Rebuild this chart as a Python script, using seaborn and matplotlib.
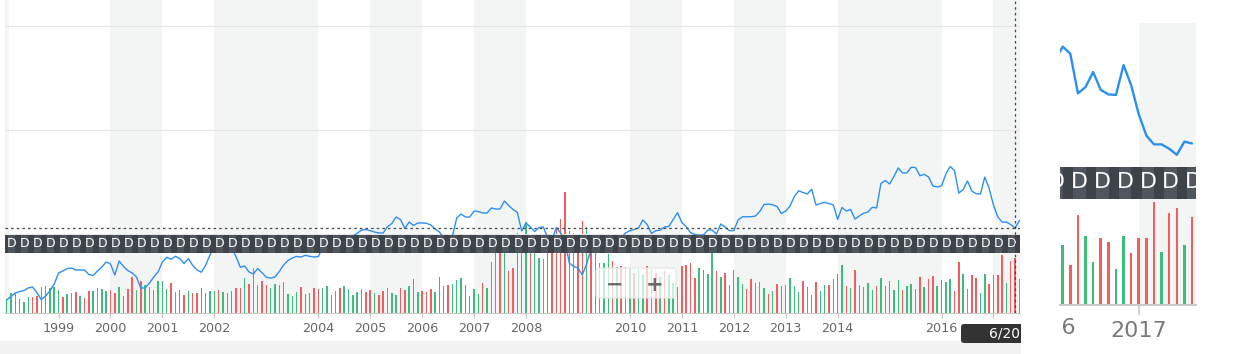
import numpy as np
import matplotlib
matplotlib.use("Agg")
import matplotlib.pyplot as plt
import matplotlib.transforms as mtransforms
from matplotlib.patches import Rectangle, FancyBboxPatch
import seaborn as sns

W, H = 1238, 354

# ---------------- data (monthly, Jan 1998 .. Aug 2017) ----------------
price = [
    3.65, 3.99, 4.33, 4.45, 4.57, 4.81, 4.90, 4.36, 3.70, 4.04, 4.52, 5.19,
    6.25, 6.44, 6.68, 6.73, 6.54, 6.54, 6.54, 6.11, 6.01, 6.44, 6.83, 7.31,
    7.12, 6.06, 7.40, 6.88, 6.49, 6.25, 5.87, 4.81, 4.81, 5.29, 5.87, 6.35,
    7.31, 7.76, 7.57, 7.86, 7.64, 7.16, 7.64, 6.97, 6.54, 6.32, 7.02, 7.98,
    8.85, 9.33, 9.52, 9.23, 8.65, 7.82, 6.80, 6.92, 6.35, 6.15, 6.68, 6.28,
    5.84, 5.75, 5.87, 6.39, 7.02, 7.45, 7.69, 7.84, 7.79, 7.95, 7.86, 7.79,
    7.82, 8.65, 8.94, 8.85, 9.04, 9.23, 9.42, 9.62, 9.81, 10.07, 10.38, 10.43,
    10.32, 10.19, 10.10, 10.10, 10.70, 11.01, 11.63, 11.39, 10.53, 11.15, 10.82, 11.06,
    11.06, 11.03, 10.87, 10.48, 10.19, 9.62, 9.23, 9.81, 11.54, 11.92, 11.63, 11.63,
    12.21, 12.16, 12.02, 12.02, 12.50, 12.40, 12.40, 13.17, 12.74, 12.36, 12.07, 10.29,
    11.06, 10.67, 10.24, 10.63, 10.67, 9.62, 9.42, 10.61, 10.10, 9.42, 7.21, 6.88,
    6.73, 6.06, 7.12, 8.46, 8.46, 8.65, 8.85, 9.04, 9.23, 9.42, 9.62, 10.10,
    10.32, 10.43, 10.58, 11.35, 10.91, 10.05, 10.32, 10.37, 10.67, 10.72, 11.39, 12.05,
    11.11, 10.70, 10.14, 9.95, 9.90, 9.90, 10.38, 10.38, 10.00, 10.96, 10.67, 10.32,
    10.32, 11.35, 11.65, 11.66, 11.66, 11.73, 12.16, 12.84, 12.88, 12.81, 12.64, 11.97,
    12.21, 12.69, 13.61, 14.15, 13.99, 13.85, 14.30, 12.79, 12.93, 13.04, 12.93, 12.79,
    11.41, 12.55, 12.21, 12.36, 11.44, 11.73, 11.99, 12.12, 12.57, 12.50, 14.86, 15.14,
    14.81, 15.53, 16.35, 15.87, 15.87, 16.42, 16.39, 15.60, 15.74, 15.48, 14.62, 14.52,
    14.62, 15.77, 16.49, 16.10, 13.94, 14.28, 15.10, 14.13, 13.88, 13.85, 15.48, 14.38,
    12.79, 11.63, 11.15, 11.15, 10.91, 10.58, 11.30, 11.20,
]

volume = [
    14.3, 20, 20, 14.7, 11.3, 16.7, 16.7, 17.3, 26.7, 27.3, 25.7, 26.7,
    23.3, 16.7, 19.3, 20, 21.3, 17.3, 15.3, 22.7, 22.7, 25.3, 24.3, 22,
    23.3, 20.7, 26, 17.3, 24.7, 36.7, 23.3, 32.3, 28.3, 26.7, 23.3, 32.3,
    32.3, 24.7, 30.7, 21.3, 23.3, 18.3, 22.3, 20.7, 20.3, 25.7, 20.3, 22.3,
    22.3, 23.3, 21.7, 20.3, 22.3, 25.3, 25.3, 35.7, 29.7, 45.3, 28, 32.7,
    28.3, 25.3, 29.7, 28.3, 31.3, 19.3, 17.3, 21.7, 26.7, 19.7, 20.3, 25.7,
    24.7, 25.7, 27.3, 18.3, 22.3, 25.3, 27.3, 24.7, 18.3, 21.3, 24.3, 21.7,
    23.3, 20.3, 18.3, 22.7, 25.3, 20.3, 18.3, 25.3, 23.7, 27.3, 34.7, 21.3,
    22.3, 21.3, 24.3, 21.3, 36.3, 27.3, 28.3, 29.3, 33.7, 35.3, 28.3, 17.3,
    24.3, 19.3, 30.3, 25.3, 51.7, 62, 68, 65, 42.3, 45.3, 80, 76,
    91.7, 78, 70, 55, 54.3, 76, 78, 85.7, 94, 121.7, 82, 80,
    76, 92.7, 86.7, 74, 70, 50, 50.7, 59.3, 52, 46, 47.3, 46.7,
    45, 40, 44, 38, 47.3, 44, 40, 36, 42, 38, 30, 26.7,
    47.3, 48.3, 50.3, 35.7, 45.3, 43.7, 39.3, 61.7, 42.7, 36.3, 40.3, 28.3,
    43.7, 36.3, 29.7, 24.7, 34, 30.3, 31, 25.7, 19.3, 22.3, 29.3, 27.3,
    28.3, 35.7, 27.3, 21.3, 32.7, 26.7, 18.3, 31.7, 22.7, 28.3, 28.3, 34.3,
    39.3, 48.3, 27.3, 25.3, 43.7, 28.3, 26.7, 30.3, 23.3, 27.3, 35.7, 27.3,
    32.7, 23.3, 33.3, 23.3, 27.3, 29.7, 24.7, 36.3, 26.7, 34.3, 37.3, 27.3,
    33.3, 31.7, 34.3, 22.7, 51.3, 39.3, 24.7, 38.3, 35.7, 20.3, 39.3, 29.7,
    38.3, 38.3, 58.3, 30.3, 52.3, 55.3, 34.3, 50,
]

# G = up month, R = down month
direction = (
    "GGGRGGRRRGGG" "GRGGRGRRGGGG" "RRGRRRGRGGGG" "GGRGRRGRRRGG" "GRGGRRRGRGGR"
    "RGGGGGGGRGRR" "RGGRGRGGGGGR" "RGRRGGGRRGRG" "RRRGRRRGGGRR" "GGRGGGRGRRRR"
    "GRGGGRRRRRRG" "RRGRRGGGRGRG" "GRGGRGRGRGGG" "RRRRGRGGRGRR" "RGGRRGGGRGRR"
    "GGGGRRGRGGRR" "RGRGRGGGGRGG" "RGGRGGGRGRRG" "RGGRRGGRRGGR" "RRRGRRGR"
)

t = 1998 + np.arange(len(price)) / 12.0

tick_years = [1999, 2000, 2001, 2002, 2004, 2005, 2006, 2007, 2008,
              2010, 2011, 2012, 2013, 2014, 2016, 2017]
tick_labels = ["1999", "2000", "2001", "2002", "2004", "2005", "2006", "2007", "2008",
               "2010", "2011", "2012", "2013", "2014", "2016", ""]
shaded = [(1997.0, 1998.04), (2000, 2001), (2002, 2004), (2005, 2006), (2007, 2008),
          (2010, 2011), (2012, 2013), (2014, 2016), (2017, 2018)]
flag_months = np.arange(1.2, 236, 3)      # quarterly dividend flags
flag_label = "D"
hover_index = 233
tooltip_text = "6/20"

# ---------------- style ----------------
sns.set_theme(style="white")
plt.rcParams["font.family"] = ["DejaVu Sans"]

BLUE = "#2b8ff0"
RED = "#f45c5e"
GREEN = "#3dbd7d"
SHADE = "#f3f5f5"
BAND_LO, BAND_HI = 8.17, 9.90

fig = plt.figure(figsize=(W / 100, H / 100), dpi=100)
fig.patch.set_facecolor("white")


def px_axes(x0, y0, x1, y1):
    return fig.add_axes([x0 / W, 1 - y1 / H, (x1 - x0) / W, (y1 - y0) / H])


def draw_panel(axv, axp, scale, lw, xlim):
    for a, b in shaded:
        axv.axvspan(a, b, color=SHADE, lw=0, zorder=0)
    colors = [GREEN if d == "G" else RED for d in direction]
    axv.bar(t, volume, width=0.028, color=colors, linewidth=0, zorder=2)
    sns.lineplot(x=t, y=price, ax=axp, color=BLUE, linewidth=lw, zorder=3)
    axp.axhspan(BAND_LO, BAND_HI, color="#3e434a", lw=0, zorder=5)
    mid = (BAND_LO + BAND_HI) / 2 + 0.05
    for m in flag_months:
        x = 1998 + m / 12.0
        if x < xlim[0] - 0.06 or x > xlim[1] + 0.06:
            continue
        axp.add_patch(Rectangle((x - 0.07, BAND_LO), 0.14, BAND_HI - BAND_LO,
                                fc="#50565e", lw=0, zorder=6))
        axp.text(x, mid, flag_label, color="white", fontsize=9 * scale,
                 ha="center", va="center", zorder=7, clip_on=True)
    for a in (axv, axp):
        for s in a.spines.values():
            s.set_visible(False)
        a.set_xlabel("")
        a.set_ylabel("")
    axv.spines["bottom"].set_visible(True)
    axv.spines["bottom"].set_color("#c8c8c8")
    axv.spines["bottom"].set_linewidth(0.8 * scale)
    axv.set_yticks([])
    axp.tick_params(axis="y", length=0, labelright=False, labelleft=False)
    axv.set_xlim(*xlim)


# ---------------- main panel ----------------
main_xlim = (1997.969, 2017.511)
ax = px_axes(5, 0, 1020, 313.3)
axp = ax.twinx()
draw_panel(ax, axp, 1.0, 1.0, main_xlim)
ax.set_ylim(0, 313.3)
axp.set_ylim(2.375, 32.5)
axp.set_yticks([10, 20, 30])
axp.grid(axis="y", color="#e6e6e6", lw=0.8)
ax.set_xlim(*main_xlim)
ax.set_xticks(tick_years)
ax.set_xticklabels(tick_labels)
ax.tick_params(axis="x", length=3.6, width=0.8, color="#c8c8c8", labelsize=9.2,
               labelcolor="#666666", pad=2.5, bottom=True)

# crosshair at hovered month
axp.axvline(t[hover_index], color="#444444", lw=0.9, ls=(0, (2, 2.5)), zorder=8)
axp.axhline(price[hover_index], color="#444444", lw=0.9, ls=(0, (2, 2.5)), zorder=8)

# ---------------- magnified panel ----------------
inset_xlim = (2016.137, 2017.627)
axi = px_axes(1060, 23, 1196, 305)
axip = axi.twinx()
draw_panel(axi, axip, 1.76, 1.7, inset_xlim)
axi.set_ylim(0, 160.2)
axip.set_ylim(2.375, 17.78)
axip.set_yticks([])
axi.set_xlim(*inset_xlim)
axi.set_xticks([2017])
axi.set_xticklabels(["2017"])
axi.tick_params(axis="x", length=7.2, width=1.2, color="#c8c8c8", labelsize=16,
                labelcolor="#7a7a7a", pad=4, bottom=True)
btf = mtransforms.blended_transform_factory(axi.transData, axi.transAxes)
axi.text(2016.0, -0.045, "2016", transform=btf, ha="center", va="top",
         fontsize=16, color="#7a7a7a", clip_on=False)

# ---------------- overlays (pixel positioned) ----------------
inch = fig.dpi_scale_trans


def box(x0, y0, x1, y1):
    return x0 / 100, (H - y1) / 100, (x1 - x0) / 100, (y1 - y0) / 100


bx, by, bw, bh = box(0, 341, 1021, 354)
fig.patches.append(Rectangle((bx, by), bw, bh, transform=inch, fc="#f2f2f2",
                             lw=0, zorder=1))

bx, by, bw, bh = box(1021, 306, 1060, 354)
fig.patches.append(Rectangle((bx, by), bw, bh, transform=inch, fc="white",
                             lw=0, zorder=2))

# zoom buttons
bx, by, bw, bh = box(596, 268, 676, 298)
fig.patches.append(FancyBboxPatch((bx, by), bw, bh, transform=inch,
                                  boxstyle="round,pad=0,rounding_size=0.03",
                                  fc=(1, 1, 1, 0.72), ec="#e6e6e6", lw=0.8, zorder=3))
fig.text(615 / 100, (H - 285) / 100, "\u2212", transform=inch, ha="center",
         va="center", fontsize=15, fontweight="bold", color="#6b6b6b", zorder=4)
fig.text(655 / 100, (H - 285) / 100, "+", transform=inch, ha="center",
         va="center", fontsize=15, fontweight="bold", color="#6b6b6b", zorder=4)

# tooltip label on the x axis
bx, by, bw, bh = box(961, 324, 1035, 343)
tip = FancyBboxPatch((bx, by), bw, bh, transform=inch,
                     boxstyle="round,pad=0,rounding_size=0.03",
                     fc="#333333", ec="none", zorder=5)
fig.patches.append(tip)
clip = Rectangle((0, 0), 10.21, H / 100, transform=inch)
tip.set_clip_path(clip)
fig.text(1020 / 100, (H - 333.5) / 100, tooltip_text, transform=inch, ha="right",
         va="center", fontsize=10, color="white", zorder=6)

fig.savefig("out.png", dpi=100, facecolor="white")
